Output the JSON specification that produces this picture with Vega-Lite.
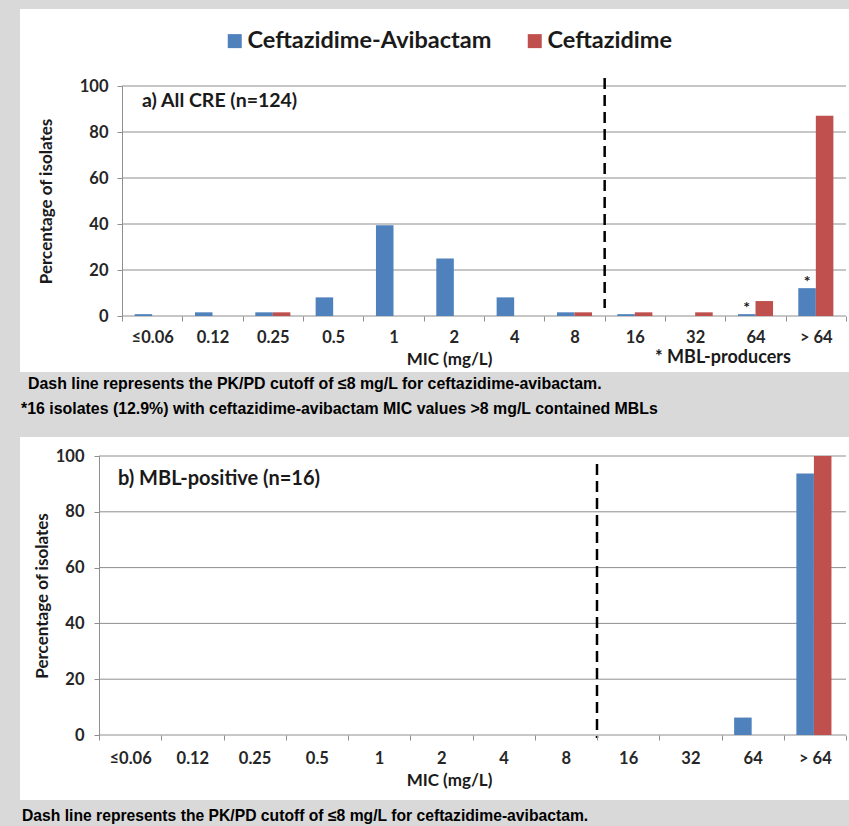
{
  "$schema": "https://vega.github.io/schema/vega-lite/v6.json",
  "background": "#d9d9d9",
  "padding": {"left": 19, "top": 8, "right": 0, "bottom": 0},
  "bounds": "flush",
  "spacing": 140,
  "config": {
    "view": {"stroke": null},
    "font": "Lato",
    "axis": {
      "grid": false,
      "domainColor": "#8e8e8e",
      "tickColor": "#8e8e8e",
      "tickSize": 5,
      "labelFont": "Lato",
      "labelFontSize": 16.5,
      "labelFontWeight": "bold",
      "labelColor": "#262626",
      "titleFont": "Lato",
      "titleFontSize": 17,
      "titleFontWeight": "bold",
      "titleColor": "#1a1a1a"
    }
  },
  "resolve": {"scale": {"color": "independent"}, "legend": {"color": "independent"}},
  "datasets": {
    "a": [
      {"mic": "≤0.06", "drug": "Ceftazidime-Avibactam", "pct": 0.8},
      {"mic": "≤0.06", "drug": "Ceftazidime", "pct": 0},
      {"mic": "0.12", "drug": "Ceftazidime-Avibactam", "pct": 1.6},
      {"mic": "0.12", "drug": "Ceftazidime", "pct": 0},
      {"mic": "0.25", "drug": "Ceftazidime-Avibactam", "pct": 1.6},
      {"mic": "0.25", "drug": "Ceftazidime", "pct": 1.6},
      {"mic": "0.5", "drug": "Ceftazidime-Avibactam", "pct": 8.1},
      {"mic": "0.5", "drug": "Ceftazidime", "pct": 0},
      {"mic": "1", "drug": "Ceftazidime-Avibactam", "pct": 39.5},
      {"mic": "1", "drug": "Ceftazidime", "pct": 0},
      {"mic": "2", "drug": "Ceftazidime-Avibactam", "pct": 25.0},
      {"mic": "2", "drug": "Ceftazidime", "pct": 0},
      {"mic": "4", "drug": "Ceftazidime-Avibactam", "pct": 8.1},
      {"mic": "4", "drug": "Ceftazidime", "pct": 0},
      {"mic": "8", "drug": "Ceftazidime-Avibactam", "pct": 1.6},
      {"mic": "8", "drug": "Ceftazidime", "pct": 1.6},
      {"mic": "16", "drug": "Ceftazidime-Avibactam", "pct": 0.8},
      {"mic": "16", "drug": "Ceftazidime", "pct": 1.6},
      {"mic": "32", "drug": "Ceftazidime-Avibactam", "pct": 0},
      {"mic": "32", "drug": "Ceftazidime", "pct": 1.6},
      {"mic": "64", "drug": "Ceftazidime-Avibactam", "pct": 0.8, "star": "*"},
      {"mic": "64", "drug": "Ceftazidime", "pct": 6.5},
      {"mic": "> 64", "drug": "Ceftazidime-Avibactam", "pct": 12.1, "star": "*"},
      {"mic": "> 64", "drug": "Ceftazidime", "pct": 87.1}
    ],
    "b": [
      {"mic": "64", "drug": "Ceftazidime-Avibactam", "pct": 6.25},
      {"mic": "> 64", "drug": "Ceftazidime-Avibactam", "pct": 93.75},
      {"mic": "> 64", "drug": "Ceftazidime", "pct": 100}
    ]
  },
  "vconcat": [
    {
      "width": 747,
      "height": 230,
      "resolve": {"scale": {"x": "independent"}},
      "layer": [
        {
          "data": {"values": [{}]},
          "mark": {"type": "rect", "fill": "white"},
          "encoding": {
            "x": {"datum": -0.10576, "type": "quantitative", "scale": {"domain": [0, 1], "nice": false, "zero": false}, "axis": null},
            "x2": {"datum": 1.00535},
            "y": {"datum": 133.48, "type": "quantitative", "scale": {"domain": [0, 100], "nice": false}, "title": "Percentage of isolates"},
            "y2": {"datum": -24.35}
          }
        },
        {
          "data": {"values": [{"g": 0}, {"g": 20}, {"g": 40}, {"g": 60}, {"g": 80}, {"g": 100}]},
          "mark": {"type": "rule", "color": "#8e8e8e", "strokeWidth": 1},
          "encoding": {
            "x": {"datum": 0.03079, "type": "quantitative", "scale": {"domain": [0, 1], "nice": false, "zero": false}, "axis": null},
            "x2": {"datum": 1},
            "y": {"field": "g", "type": "quantitative", "scale": {"domain": [0, 100], "nice": false}, "title": "Percentage of isolates"}
          }
        },
        {
          "data": {"name": "a"},
          "layer": [
            {
              "mark": {"type": "bar"},
              "encoding": {
                "x": {
                  "field": "mic", "type": "nominal", "sort": null,
                  "scale": {"domain": ["≤0.06", "0.12", "0.25", "0.5", "1", "2", "4", "8", "16", "32", "64", "> 64"], "paddingInner": 0, "paddingOuter": 0.1906, "align": 1},
                  "axis": {"title": "MIC (mg/L)", "labelAngle": 0, "tickBand": "extent", "domain": false, "labelPadding": 8, "titlePadding": 6, "titleX": 350, "zindex": 1}
                },
                "xOffset": {"field": "drug", "type": "nominal", "scale": {"domain": ["Ceftazidime-Avibactam", "Ceftazidime"], "paddingInner": 0, "paddingOuter": 0.72}},
                "y": {
                  "field": "pct", "type": "quantitative",
                  "scale": {"domain": [0, 100], "nice": false},
                  "title": "Percentage of isolates",
                  "axis": {"title": "Percentage of isolates", "values": [0, 20, 40, 60, 80, 100], "labelPadding": 9, "titlePadding": 24, "offset": -23, "zindex": 1}
                },
                "color": {
                  "field": "drug", "type": "nominal",
                  "scale": {"domain": ["Ceftazidime-Avibactam", "Ceftazidime"], "range": ["#4F81BD", "#C0504D"]},
                  "legend": {"orient": "none", "legendX": 124, "legendY": -57, "direction": "horizontal", "title": null, "symbolType": "square", "symbolSize": 196, "symbolStrokeWidth": 0, "symbolOpacity": 1, "labelFont": "Lato", "labelFontSize": 23.5, "labelFontWeight": "bold", "labelColor": "#1a1a1a", "labelLimit": 400, "columnPadding": 31, "labelOffset": 1}
                }
              }
            },
            {
              "data": {"values": [{"mic": "16"}]},
              "mark": {"type": "rule", "color": "#000000", "strokeWidth": 2.5, "strokeDash": [11, 6]},
              "encoding": {
                "x": {"field": "mic", "type": "nominal", "bandPosition": 0, "sort": null,
                  "scale": {"domain": ["≤0.06", "0.12", "0.25", "0.5", "1", "2", "4", "8", "16", "32", "64", "> 64"], "paddingInner": 0, "paddingOuter": 0.1906, "align": 1}},
                "y": {"datum": 103.5, "type": "quantitative", "scale": {"domain": [0, 100], "nice": false}, "title": "Percentage of isolates"},
                "y2": {"datum": 3.5}
              }
            },
            {
              "transform": [{"filter": "datum.star == '*'"}],
              "mark": {"type": "text", "font": "Lato", "fontSize": 16, "fontWeight": "bold", "color": "#1a1a1a", "baseline": "alphabetic", "dy": -1},
              "encoding": {
                "x": {"field": "mic", "type": "nominal", "sort": null,
                  "scale": {"domain": ["≤0.06", "0.12", "0.25", "0.5", "1", "2", "4", "8", "16", "32", "64", "> 64"], "paddingInner": 0, "paddingOuter": 0.1906, "align": 1}},
                "xOffset": {"field": "drug", "type": "nominal", "scale": {"domain": ["Ceftazidime-Avibactam", "Ceftazidime"], "paddingInner": 0, "paddingOuter": 0.72}},
                "y": {"field": "pct", "type": "quantitative", "scale": {"domain": [0, 100], "nice": false}, "title": "Percentage of isolates"},
                "text": {"field": "star"}
              }
            }
          ]
        },
        {
          "data": {"values": [{}]},
          "mark": {"type": "text", "text": "a) All CRE (n=124)", "font": "Lato", "fontSize": 19.5, "fontWeight": "bold", "color": "#1a1a1a", "align": "left", "baseline": "middle"},
          "encoding": {
            "x": {"datum": 0.0576, "type": "quantitative", "scale": {"domain": [0, 1], "nice": false, "zero": false}, "axis": null},
            "y": {"datum": 93.5, "type": "quantitative", "scale": {"domain": [0, 100], "nice": false}, "title": "Percentage of isolates"}
          }
        },
        {
          "data": {"values": [{}]},
          "mark": {"type": "text", "text": "* MBL-producers", "font": "Lato", "fontSize": 18, "fontWeight": "bold", "color": "#1a1a1a", "align": "center", "baseline": "middle"},
          "encoding": {
            "x": {"datum": 0.8353, "type": "quantitative", "scale": {"domain": [0, 1], "nice": false, "zero": false}, "axis": null},
            "y": {"datum": -18.26, "type": "quantitative", "scale": {"domain": [0, 100], "nice": false}, "title": "Percentage of isolates"}
          }
        },
        {
          "data": {"values": [{}]},
          "mark": {"type": "text", "text": "Dash line represents the PK/PD cutoff of ≤8 mg/L for ceftazidime-avibactam.", "font": "Liberation Sans", "fontSize": 15.9, "fontWeight": "bold", "color": "#000000", "align": "left", "baseline": "middle"},
          "encoding": {
            "x": {"datum": -0.0950, "type": "quantitative", "scale": {"domain": [0, 1], "nice": false, "zero": false}, "axis": null},
            "y": {"datum": -29.57, "type": "quantitative", "scale": {"domain": [0, 100], "nice": false}, "title": "Percentage of isolates"}
          }
        },
        {
          "data": {"values": [{}]},
          "mark": {"type": "text", "text": "*16 isolates (12.9%) with ceftazidime-avibactam MIC values >8 mg/L contained MBLs", "font": "Liberation Sans", "fontSize": 15.9, "fontWeight": "bold", "color": "#000000", "align": "left", "baseline": "middle"},
          "encoding": {
            "x": {"datum": -0.1044, "type": "quantitative", "scale": {"domain": [0, 1], "nice": false, "zero": false}, "axis": null},
            "y": {"datum": -40.43, "type": "quantitative", "scale": {"domain": [0, 100], "nice": false}, "title": "Percentage of isolates"}
          }
        }
      ]
    },
    {
      "width": 747,
      "height": 279,
      "resolve": {"scale": {"x": "independent"}},
      "layer": [
        {
          "data": {"values": [{}]},
          "mark": {"type": "rect", "fill": "white"},
          "encoding": {
            "x": {"datum": -0.10576, "type": "quantitative", "scale": {"domain": [0, 1], "nice": false, "zero": false}, "axis": null},
            "x2": {"datum": 1.00535},
            "y": {"datum": 106.81, "type": "quantitative", "scale": {"domain": [0, 100], "nice": false}, "title": "Percentage of isolates"},
            "y2": {"datum": -23.3}
          }
        },
        {
          "data": {"values": [{}]},
          "mark": {"type": "rect", "fill": "#d9d9d9"},
          "encoding": {
            "x": {"datum": -0.10576, "type": "quantitative", "scale": {"domain": [0, 1], "nice": false, "zero": false}, "axis": null},
            "x2": {"datum": 1.00535},
            "y": {"datum": -23.3, "type": "quantitative", "scale": {"domain": [0, 100], "nice": false}, "title": "Percentage of isolates"},
            "y2": {"datum": -34.4}
          }
        },
        {
          "data": {"values": [{"g": 0}, {"g": 20}, {"g": 40}, {"g": 60}, {"g": 80}, {"g": 100}]},
          "mark": {"type": "rule", "color": "#8e8e8e", "strokeWidth": 1},
          "encoding": {
            "x": {"datum": 0, "type": "quantitative", "scale": {"domain": [0, 1], "nice": false, "zero": false}, "axis": null},
            "x2": {"datum": 1},
            "y": {"field": "g", "type": "quantitative", "scale": {"domain": [0, 100], "nice": false}, "title": "Percentage of isolates"}
          }
        },
        {
          "data": {"name": "b"},
          "layer": [
            {
              "mark": {"type": "bar"},
              "encoding": {
                "x": {
                  "field": "mic", "type": "nominal", "sort": null,
                  "scale": {"domain": ["≤0.06", "0.12", "0.25", "0.5", "1", "2", "4", "8", "16", "32", "64", "> 64"], "paddingInner": 0, "paddingOuter": 0},
                  "axis": {"title": "MIC (mg/L)", "labelAngle": 0, "tickBand": "extent", "domain": false, "labelPadding": 10, "titlePadding": 6, "titleX": 350, "zindex": 1}
                },
                "xOffset": {"field": "drug", "type": "nominal", "scale": {"domain": ["Ceftazidime-Avibactam", "Ceftazidime"], "paddingInner": 0, "paddingOuter": 0.78}},
                "y": {
                  "field": "pct", "type": "quantitative",
                  "scale": {"domain": [0, 100], "nice": false},
                  "title": "Percentage of isolates",
                  "axis": {"title": "Percentage of isolates", "values": [0, 20, 40, 60, 80, 100], "labelPadding": 10, "titlePadding": 4, "zindex": 1}
                },
                "color": {
                  "field": "drug", "type": "nominal",
                  "scale": {"domain": ["Ceftazidime-Avibactam", "Ceftazidime"], "range": ["#4F81BD", "#C0504D"]},
                  "legend": null
                }
              }
            },
            {
              "data": {"values": [{"mic": "16"}]},
              "mark": {"type": "rule", "color": "#000000", "strokeWidth": 2.5, "strokeDash": [11, 6]},
              "encoding": {
                "x": {"field": "mic", "type": "nominal", "bandPosition": 0, "sort": null,
                  "scale": {"domain": ["≤0.06", "0.12", "0.25", "0.5", "1", "2", "4", "8", "16", "32", "64", "> 64"], "paddingInner": 0, "paddingOuter": 0}},
                "y": {"datum": 97.1, "type": "quantitative", "scale": {"domain": [0, 100], "nice": false}, "title": "Percentage of isolates"},
                "y2": {"datum": -1.1}
              }
            }
          ]
        },
        {
          "data": {"values": [{}]},
          "mark": {"type": "text", "text": "b) MBL-positive (n=16)", "font": "Lato", "fontSize": 20, "fontWeight": "bold", "color": "#1a1a1a", "align": "left", "baseline": "middle"},
          "encoding": {
            "x": {"datum": 0.0254, "type": "quantitative", "scale": {"domain": [0, 1], "nice": false, "zero": false}, "axis": null},
            "y": {"datum": 91.76, "type": "quantitative", "scale": {"domain": [0, 100], "nice": false}, "title": "Percentage of isolates"}
          }
        },
        {
          "data": {"values": [{}]},
          "mark": {"type": "text", "text": "Dash line represents the PK/PD cutoff of ≤8 mg/L for ceftazidime-avibactam.", "font": "Liberation Sans", "fontSize": 15.7, "fontWeight": "bold", "color": "#000000", "align": "left", "baseline": "middle"},
          "encoding": {
            "x": {"datum": -0.1031, "type": "quantitative", "scale": {"domain": [0, 1], "nice": false, "zero": false}, "axis": null},
            "y": {"datum": -29.03, "type": "quantitative", "scale": {"domain": [0, 100], "nice": false}, "title": "Percentage of isolates"}
          }
        }
      ]
    }
  ]
}
